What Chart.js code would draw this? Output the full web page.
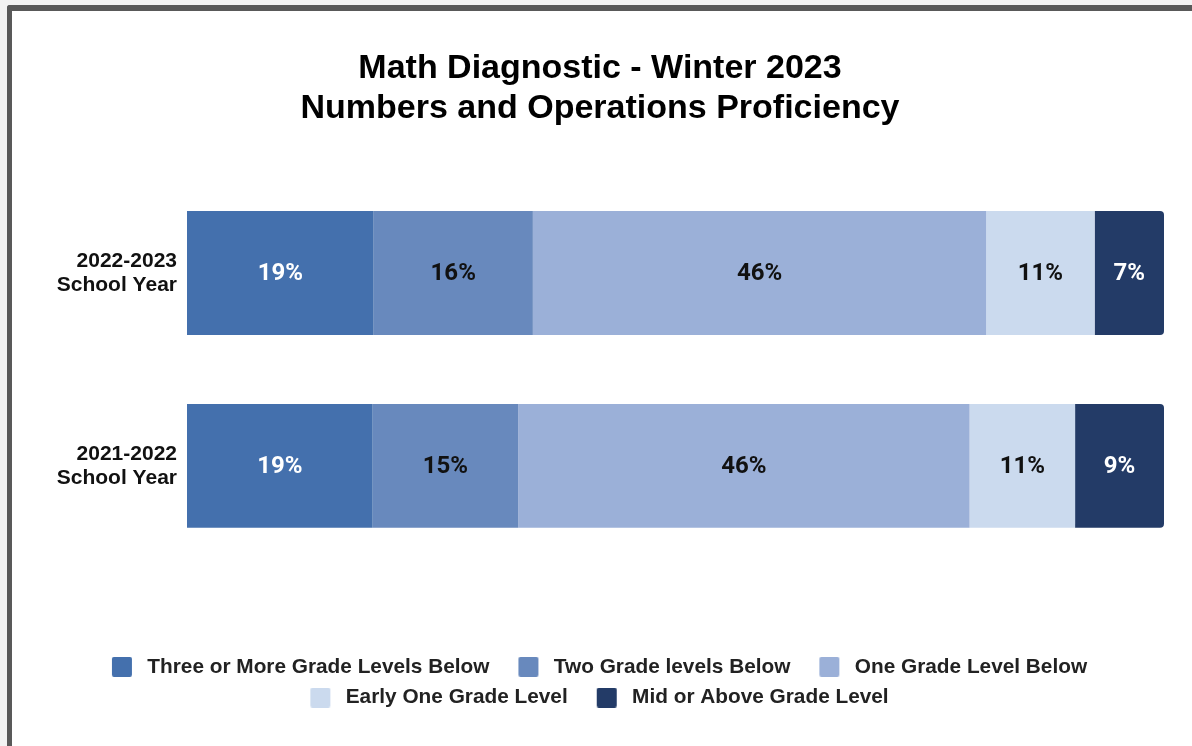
<!DOCTYPE html>
<html>
<head>
<meta charset="utf-8">
<script src="https://cdn.jsdelivr.net/npm/chart.js@4"></script>
<style>
  body { margin: 0; background: #f3f3f3; overflow: hidden; }
  #marco {
    position: absolute; left: 7px; top: 5px;
    width: 1200px; height: 760px;
    border-left: 5px solid #595959; border-top: 6px solid #595959;
    border-top-left-radius: 3px;
    background: #ffffff;
  }
  #grafico { display: block; }
</style>
</head>
<body>
<div id="marco"><canvas id="grafico" width="1180" height="735"></canvas></div>
<script>
const categorias = [["2022-2023", "School Year"], ["2021-2022", "School Year"]];
const niveles = ["Three or More Grade Levels Below", "Two Grade levels Below", "One Grade Level Below", "Early One Grade Level", "Mid or Above Grade Level"];
// porcentaje por nivel, un valor por año escolar
const tres_o_mas = [19.1, 19.0];
const dos_niveles = [16.3, 14.9];
const un_nivel = [46.4, 46.2];
const temprano = [11.1, 10.8];
const medio_arriba = [7.1, 9.1];
const colores = ["#4470ad", "#6889bd", "#9bb0d8", "#cbdaee", "#233b67"];
const color_etiqueta = ["#ffffff", "#111111", "#111111", "#111111", "#ffffff"];

const series = [tres_o_mas, dos_niveles, un_nivel, temprano, medio_arriba];

/* cuadritos de la leyenda */
function crear_cuadro(color) {
  const c = document.createElement("canvas");
  c.width = 44;
  c.height = 20;
  const g = c.getContext("2d");
  g.fillStyle = color;
  g.beginPath();
  g.roundRect(19, 0, 20, 20, 2);
  g.fill();
  return c;
}
const cuadros = colores.map(crear_cuadro);

/* etiquetas de porcentaje dentro de cada barra */
const etiquetas_barras = {
  id: "etiquetas_barras",
  afterDatasetsDraw(chart) {
    const ctx = chart.ctx;
    ctx.save();
    ctx.font = "bold 24px Roboto";
    ctx.textAlign = "center";
    ctx.textBaseline = "middle";
    chart.data.datasets.forEach((ds, i) => {
      const meta = chart.getDatasetMeta(i);
      meta.data.forEach((bar, j) => {
        ctx.fillStyle = color_etiqueta[i];
        ctx.fillText(Math.round(ds.data[j]) + "%", (bar.x + bar.base) / 2, bar.y + 1);
      });
    });
    ctx.restore();
  }
};

/* mover la leyenda para que quede centrada */
const mover_leyenda = {
  id: "mover_leyenda",
  afterLayout(chart) {
    chart.legend.left -= 10;
    chart.legend.right -= 10;
  }
};

const datasets = series.map((valores, i) => {
  return {
    label: niveles[i],
    data: valores,
    backgroundColor: colores[i],
    borderWidth: 0,
    borderRadius: 4,
    barPercentage: 1,
    categoryPercentage: 0.642
  };
});

const config = {
  type: "bar",
  data: { labels: categorias, datasets },
  options: {
    indexAxis: "y",
    responsive: false,
    animation: false,
    devicePixelRatio: 1,
    layout: { padding: { left: 24, right: 28, top: 0, bottom: 28 } },
    scales: {
      x: {
        stacked: true, min: 0, max: 100,
        grid: { display: false, drawTicks: false }, border: { display: false },
        ticks: { display: false },
        afterFit(scale) { scale.height = 84; }
      },
      y: {
        stacked: true,
        grid: { display: false, drawTicks: false }, border: { display: false },
        ticks: {
          color: "#111111", padding: 10,
          font: { family: "Liberation Sans", size: 21, weight: "bold", lineHeight: 24 / 21 }
        },
        afterFit(scale) { scale.width = 151; }
      }
    },
    plugins: {
      tooltip: { enabled: false },
      title: {
        display: true,
        text: ["Math Diagnostic - Winter 2023", "Numbers and Operations Proficiency"],
        color: "#000000",
        font: { family: "Liberation Sans", size: 34, weight: "bold", lineHeight: 40 / 34 },
        padding: { top: 38, bottom: 47.5 }
      },
      legend: {
        position: "bottom",
        labels: {
          usePointStyle: true,
          pointStyleWidth: 44,
          boxHeight: 20,
          padding: 10,
          color: "#222222",
          font: { family: "Liberation Sans", size: 20.8, weight: "bold" },
          generateLabels(chart) {
            const items = Chart.defaults.plugins.legend.labels.generateLabels(chart);
            items.forEach((it, i) => { it.pointStyle = cuadros[i]; });
            return items;
          }
        }
      }
    }
  },
  plugins: [etiquetas_barras, mover_leyenda]
};

/* esperar la fuente antes de dibujar */
let myChart;
document.fonts.load("bold 24px Roboto").then(() => {
  myChart = new Chart(document.getElementById("grafico").getContext("2d"), config);
});
</script>
</body>
</html>
